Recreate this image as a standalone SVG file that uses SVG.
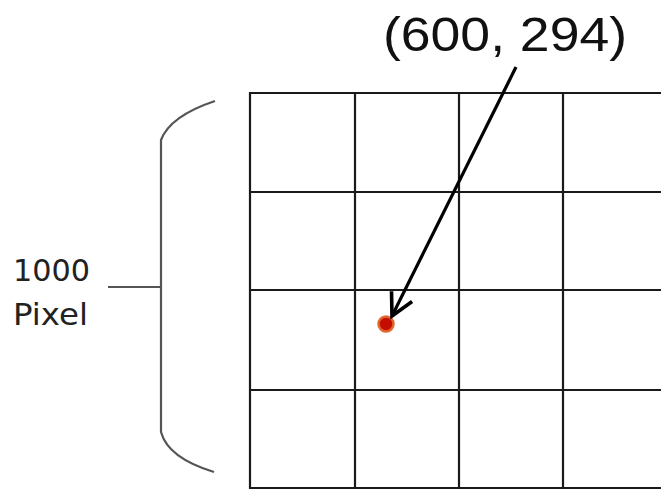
<svg xmlns="http://www.w3.org/2000/svg" width="661" height="491" viewBox="0 0 661 491">
<style>
.grid{stroke:#1a1a1a;stroke-width:2.2;fill:none}
.brace{stroke:#555;stroke-width:2.2;fill:none}
.lbl{font-family:"DejaVu Sans",sans-serif;font-size:31px;fill:#222}
.coord{font-family:"Liberation Sans",Arial,sans-serif;font-size:49px;fill:#111}
</style>
<defs>
<marker id="arr" markerUnits="userSpaceOnUse" markerWidth="30" markerHeight="30" refX="23" refY="12" orient="auto" viewBox="0 0 30 24">
<path d="M1,0.5 L23,12 L1,23.5" fill="none" stroke="#000" stroke-width="3.6" stroke-linejoin="miter"/>
</marker>
</defs>
<rect width="661" height="491" fill="#fff"/>
<g id="grid">
<path class="grid" d="M661,93 H250 V488 H661"/>
<path class="grid" d="M250,192 H661 M250,290 H661 M250,390 H661"/>
<path class="grid" d="M355,93 V488 M459,93 V488 M563,93 V488"/>
</g>
<g id="brace">
<path class="brace" d="M215,101 Q170,116 161,140 V432 Q168,458 214,472"/>
<path class="brace" d="M108,287 H161"/>
</g>
<g id="label-size">
<text class="lbl" x="13" y="281" textLength="77" lengthAdjust="spacingAndGlyphs">1000</text>
<text class="lbl" x="13" y="325" textLength="75" lengthAdjust="spacingAndGlyphs">Pixel</text>
</g>
<g id="point">
<circle cx="386" cy="324" r="7.5" fill="#c40f00" stroke="#e0682e" stroke-width="2.5"/>
</g>
<g id="label-coord">
<text class="coord" x="383" y="51" textLength="244" lengthAdjust="spacingAndGlyphs">(600, 294)</text>
</g>
<g id="connectors">
<line x1="516" y1="67" x2="392" y2="316" stroke="#000" stroke-width="3.2" marker-end="url(#arr)"/>
</g>
</svg>
